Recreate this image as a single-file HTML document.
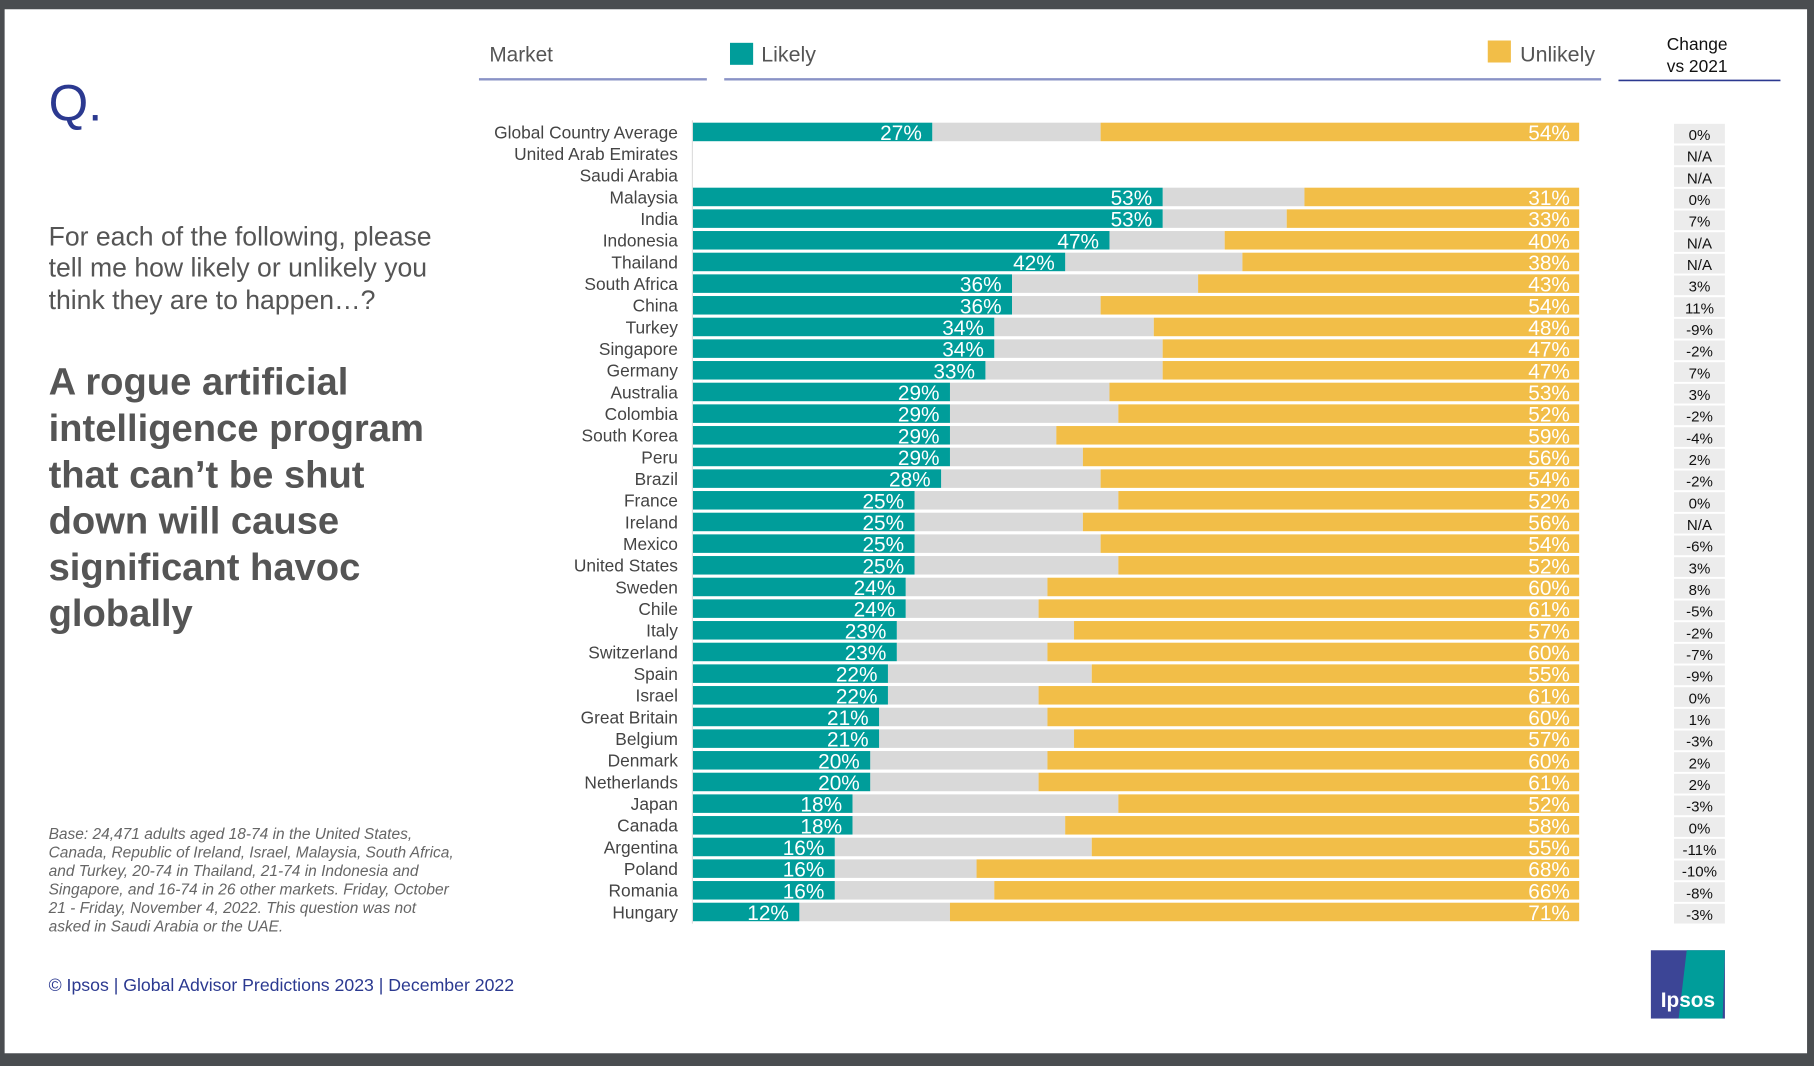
<!DOCTYPE html>
<html><head><meta charset="utf-8"><style>
html,body{margin:0;padding:0;background:#4a4d50;}
svg{display:block;font-family:"Liberation Sans",sans-serif;}
</style></head><body>
<svg id="chart" width="1814" height="1066" viewBox="0 0 1568 921" preserveAspectRatio="none">
<rect x="0" y="0" width="1568" height="921" fill="#4a4d50"/>
<rect x="4" y="8" width="1558" height="902" fill="#ffffff"/>
<text x="42" y="104" font-size="44" fill="#2b3990">Q.</text>
<g fill="#555" font-size="23">
<text x="42" y="212">For each of the following, please</text>
<text x="42" y="239">tell me how likely or unlikely you</text>
<text x="42" y="267">think they are to happen…?</text>
</g>
<g fill="#555" font-size="33" font-weight="bold">
<text x="42" y="341">A rogue artificial</text>
<text x="42" y="381">intelligence program</text>
<text x="42" y="421">that can’t be shut</text>
<text x="42" y="461">down will cause</text>
<text x="42" y="501">significant havoc</text>
<text x="42" y="541">globally</text>
</g>
<g fill="#666" font-size="13.4" font-style="italic">
<text x="42" y="725">Base: 24,471 adults aged 18-74 in the United States,</text>
<text x="42" y="741">Canada, Republic of Ireland, Israel, Malaysia, South Africa,</text>
<text x="42" y="757">and Turkey, 20-74 in Thailand, 21-74 in Indonesia and</text>
<text x="42" y="773">Singapore, and 16-74 in 26 other markets. Friday, October</text>
<text x="42" y="789">21 -  Friday, November 4, 2022. This question was not</text>
<text x="42" y="805">asked in Saudi Arabia or the UAE.</text>
</g>
<text x="42" y="856" font-size="15.3" fill="#2b3990">© Ipsos | Global Advisor Predictions 2023 | December 2022</text>
<g>
<rect x="1427" y="821" width="64" height="59" fill="#3c4596"/>
<path d="M1458 821 L1491 821 L1489 880 L1451 880 Z" fill="#009d9a"/>
<text x="1459" y="870" font-size="18" fill="#fff" text-anchor="middle" font-weight="bold">Ipsos</text>
</g>
<g>
<text x="423" y="53" font-size="18" fill="#555">Market</text>
<line x1="414" y1="68.5" x2="611" y2="68.5" stroke="#8a93c6" stroke-width="2"/>
<rect x="631" y="37" width="20" height="19" fill="#009d9a"/>
<text x="658" y="53" font-size="18.5" fill="#555">Likely</text>
<rect x="1286" y="35" width="20" height="19" fill="#f2be48"/>
<text x="1314" y="53" font-size="18.5" fill="#555">Unlikely</text>
<line x1="626" y1="68.5" x2="1384" y2="68.5" stroke="#8a93c6" stroke-width="2"/>
<text x="1467" y="43" font-size="15" fill="#111" text-anchor="middle">Change</text>
<text x="1467" y="62" font-size="15" fill="#111" text-anchor="middle">vs 2021</text>
<line x1="1399" y1="69.5" x2="1539" y2="69.5" stroke="#2b3990" stroke-width="1.5"/>
</g>
<g id="rows"></g>
</svg>
<script>
const countries=["Global Country Average","United Arab Emirates","Saudi Arabia","Malaysia","India","Indonesia","Thailand","South Africa","China","Turkey","Singapore","Germany","Australia","Colombia","South Korea","Peru","Brazil","France","Ireland","Mexico","United States","Sweden","Chile","Italy","Switzerland","Spain","Israel","Great Britain","Belgium","Denmark","Netherlands","Japan","Canada","Argentina","Poland","Romania","Hungary"];
const likely=[27,null,null,53,53,47,42,36,36,34,34,33,29,29,29,29,28,25,25,25,25,24,24,23,23,22,22,21,21,20,20,18,18,16,16,16,12];
const unlikely=[54,null,null,31,33,40,38,43,54,48,47,47,53,52,59,56,54,52,56,54,52,60,61,57,60,55,61,60,57,60,61,52,58,55,68,66,71];
const changes=["0%","N/A","N/A","0%","7%","N/A","N/A","3%","11%","-9%","-2%","7%","3%","-2%","-4%","2%","-2%","0%","N/A","-6%","3%","8%","-5%","-2%","-7%","-9%","0%","1%","-3%","2%","2%","-3%","0%","-11%","-10%","-8%","-3%"];
const NS="http://www.w3.org/2000/svg";
const g=document.getElementById('rows');
const x0=599,x1=1365;
const xs=v=>x0+(x1-x0)*v/100;
const ys=i=>114+i*18.72;
const bh=16;
function mk(t,a){const e=document.createElementNS(NS,t);for(const k in a)e.setAttribute(k,a[k]);return e;}
const axis=mk('line',{x1:x0-0.5,y1:104,x2:x0-0.5,y2:798,stroke:'#ddd','stroke-width':1});


g.appendChild(axis);
countries.forEach((c,i)=>{
  const y=ys(i);
  const lab=mk('text',{x:586,y:y+5.5,'font-size':15,fill:'#444','text-anchor':'end'});
  lab.textContent=c;
  
  
  g.appendChild(lab);
  if(likely[i]!=null){
    const ux=xs(100-unlikely[i]);
    const neu=mk('rect',{x:xs(likely[i]),y:y-bh/2,width:ux-xs(likely[i]),height:bh,fill:'#d9d9d9'});
    
    
    g.appendChild(neu);
    const lb=mk('rect',{x:x0,y:y-bh/2,width:xs(likely[i])-x0,height:bh,fill:'#009d9a'});
    
    
    g.appendChild(lb);
    const ub=mk('rect',{x:ux,y:y-bh/2,width:x1-ux,height:bh,fill:'#f2be48'});
    
    
    g.appendChild(ub);
    const lt=mk('text',{x:xs(likely[i])-9,y:y+7,'font-size':18,fill:'#fff','text-anchor':'end'});
    lt.textContent=likely[i]+'%';
    
    
    g.appendChild(lt);
    const ut=mk('text',{x:x1-8,y:y+7,'font-size':18,fill:'#fff','text-anchor':'end'});
    ut.textContent=unlikely[i]+'%';
    
    
    g.appendChild(ut);
  }
  const cb=mk('rect',{x:1447,y:y-7,width:44,height:17,fill:'#ececec'});
  
  
  g.appendChild(cb);
  const ct=mk('text',{x:1469,y:y+7,'font-size':13,fill:'#111','text-anchor':'middle'});
  ct.textContent=changes[i];
  
  
  g.appendChild(ct);
});
</script>
</body></html>
